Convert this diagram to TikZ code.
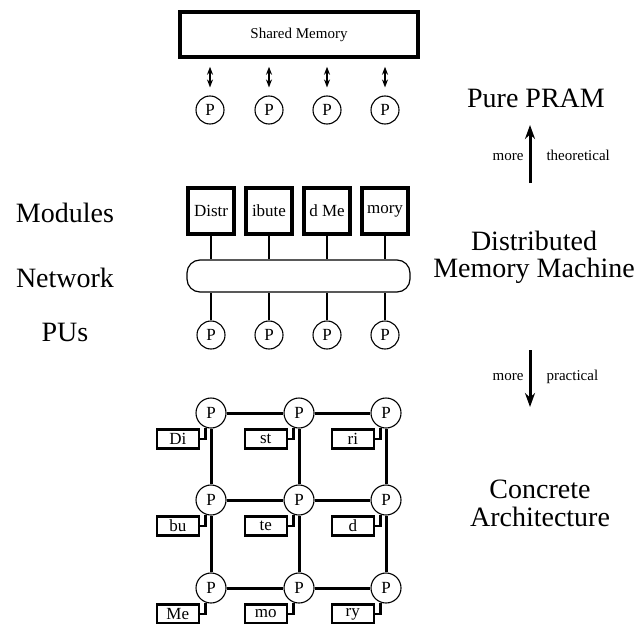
\documentclass[tikz,border=0pt]{standalone}
\usepackage{fontspec}
\setmainfont{Liberation Serif}
\usetikzlibrary{arrows.meta,calc}
\begin{document}
\begin{tikzpicture}[x=1pt,y=-1pt,
  pu/.style={circle,draw,line width=1.1pt,minimum size=28pt,inner sep=0pt,font=\fontsize{17}{17}\selectfont},
  gpu/.style={pu,minimum size=30pt,fill=white},
  bigtext/.style={font=\fontsize{28}{28}\selectfont,align=center},
  smalltext/.style={font=\fontsize{15}{15}\selectfont},
  smbox/.style={draw,line width=3.5pt,minimum width=238pt,minimum height=45pt,inner sep=0pt,font=\fontsize{15}{15}\selectfont},
  modbox/.style={draw,line width=3.2pt,minimum width=46pt,minimum height=46pt,inner sep=0pt,font=\fontsize{17}{17}\selectfont},
  membox/.style={draw,line width=2.4pt,minimum width=42pt,minimum height=19pt,inner sep=0pt,font=\fontsize{17}{17}\selectfont},
  netbar/.style={draw,line width=1.2pt,rounded corners=13pt,minimum width=223pt,minimum height=32pt,inner sep=0pt},
  link/.style={line width=2pt},
  gridlink/.style={line width=3pt},
  memlink/.style={line width=2.6pt},
  dbl/.style={line width=2pt,{Stealth[length=8pt,width=6pt]}-{Stealth[length=8pt,width=6pt]},shorten <=8pt,shorten >=8pt},
  trend/.style={line width=3pt,-{Stealth[length=14pt,width=10pt]}},
]
\useasboundingbox (0,0) rectangle (636,623);

% ---------- Pure PRAM ----------
\node[smbox] (sm) at (299,34.5) {Shared Memory};
\foreach \i/\x in {1/210,2/269,3/327,4/385}{
  \node[pu] (tp\i) at (\x,110) {P};
  \draw[dbl] (tp\i.north |- sm.south) -- (tp\i.north);
}
\node[bigtext,anchor=base] (pram) at (536,107) {Pure PRAM};

% ---------- trend arrows ----------
\coordinate (thA) at (530,183);
\coordinate (thB) at (530,125);
\draw[trend] (thA) -- (thB);
\node[smalltext,anchor=base east] (m1) at (527,160) {more};
\node[smalltext,anchor=base west] (th) at (543,160) {theoretical};

\coordinate (prA) at (530,350);
\coordinate (prB) at (530,407);
\draw[trend] (prA) -- (prB);
\node[smalltext,anchor=base east] (m2) at (527,380) {more};
\node[smalltext,anchor=base west] (pr) at (543,380) {practical};

% ---------- Distributed memory machine ----------
\node[bigtext,anchor=base] (lmod) at (65,222) {Modules};
\node[bigtext,anchor=base] (lnet) at (65,287) {Network};
\node[bigtext,anchor=base] (lpu) at (65,341) {PUs};

\node[netbar] (net) at (298.5,276) {};
\foreach \i/\x/\t in {1/211/Distr,2/269/ibute,3/327/d Me,4/385/mory}{
  \node[modbox] (mb\i) at (\x,211) {\t};
  \node[pu] (dp\i) at (\x,335) {P};
  \draw[link] (mb\i.south) -- (mb\i.south |- net.north);
  \draw[link] (dp\i.north) -- (dp\i.north |- net.south);
}
\node[bigtext,anchor=base] (dmm1) at (534,250) {Distributed};
\node[bigtext,anchor=base] (dmm2) at (534,277) {Memory Machine};

% ---------- Concrete architecture ----------
\foreach \r/\y in {1/413,2/500,3/588}{
  \foreach \c/\x in {1/211,2/299,3/386}{
    \node[gpu] (g\r\c) at (\x,\y) {P};
  }
}
\foreach \r in {1,2,3}{
  \draw[gridlink] (g\r1) -- (g\r2);
  \draw[gridlink] (g\r2) -- (g\r3);
}
\foreach \c in {1,2,3}{
  \draw[gridlink] (g1\c) -- (g2\c);
  \draw[gridlink] (g2\c) -- (g3\c);
}
\foreach \r/\c/\t in {1/1/Di,1/2/st,1/3/ri,2/1/bu,2/2/te,2/3/d,3/1/Me,3/2/mo,3/3/ry}{
  \node[membox,anchor=east] (mm\r\c) at ($(g\r\c)+(-11,26)$) {\t};
  \draw[memlink] (g\r\c.-110) |- (mm\r\c.east);
}
\node[bigtext] (ca) at (540,503) {Concrete\\Architecture};
\end{tikzpicture}
\end{document}
